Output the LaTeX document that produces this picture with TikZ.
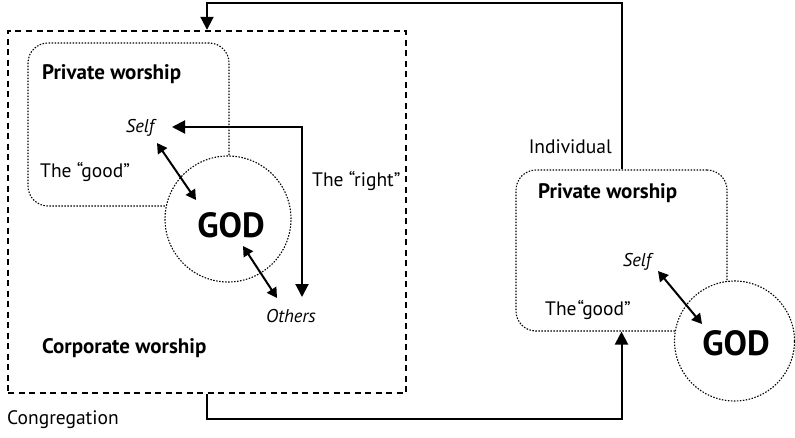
\documentclass[tikz,border=0pt]{standalone}
\usepackage{fontspec}
\setmainfont{PT Sans}
\usetikzlibrary{arrows.meta,calc}
\begin{document}
\begin{tikzpicture}[x=1pt,y=-1pt,
 dotline/.style={line width=1.1pt, dash pattern=on 1.5pt off 1.5pt},
 conn/.style={line width=2pt, -{Triangle[length=13pt,width=13pt]}},
 rconn/.style={line width=2pt, {Triangle[length=13pt,width=13pt]}-{Triangle[length=13pt,width=13pt]}},
 dconn/.style={line width=2pt, {Triangle[length=10pt,width=11pt]}-{Triangle[length=10pt,width=11pt]}},
 title/.style={font=\bfseries\fontsize{21}{24}\selectfont},
 lbl/.style={font=\fontsize{19.5}{22}\selectfont},
 it/.style={font=\itshape\fontsize{18.5}{21}\selectfont},
 godtxt/.style={font=\bfseries\fontsize{35}{38}\selectfont},
 every node/.style={inner sep=0pt}]
\useasboundingbox (0,0) rectangle (795,437);

% outer congregation box
\node[draw, line width=2.4pt, dash pattern=on 6pt off 4.5pt, minimum width=398pt, minimum height=362pt] (cong) at (207,212) {};

% left private worship + GOD
\node[draw, dotline, rounded corners=20pt, minimum width=201pt, minimum height=163pt] (pw1) at (128.5,124.5) {};
\node[draw, dotline, fill=white, circle, minimum size=126pt] (god1c) at (228,219) {};
\node[godtxt] (god1) at (231,225) {GOD};

% right private worship + GOD
\node[draw, dotline, rounded corners=20pt, minimum width=211pt, minimum height=161pt] (pw2) at (621.5,250.5) {};
\node[draw, dotline, fill=white, circle, minimum size=120pt] (god2c) at (734.5,341) {};
\node[godtxt] (god2) at (736,343) {GOD};

% texts
\node[title, anchor=west] (pwt1) at (42,74) {Private worship};
\node[it] (self1) at (140,128) {Self};
\node[lbl, anchor=west] (good1) at (40,172) {The “good”};
\node[lbl, anchor=west] (right) at (312,181) {The “right”};
\node[it] (others) at (291,316) {Others};
\node[title, anchor=west] (corp) at (42,348) {Corporate worship};
\node[lbl, anchor=west] (congl) at (7,420) {Congregation};
\node[lbl, anchor=east] (indiv) at (612,147) {Individual};
\node[title, anchor=west] (pwt2) at (538,193) {Private worship};
\node[it] (self2) at (637,262) {Self};
\node[lbl, anchor=west] (good2) at (545,310) {The\hspace{0.05em}“good”};

% connectors
\coordinate (topy) at (0,3);
\coordinate (boty) at (0,419);
\draw[conn] (pw2.north) -- (pw2.north |- topy) -- (cong.north |- topy) -- (cong.north);
\draw[conn] (cong.south) -- (cong.south |- boty) -- (pw2.south |- boty) -- (pw2.south);

\coordinate (selfTip) at (172,127);
\coordinate (rc) at (302,127);
\coordinate (othTip) at (302,297);
\draw[rconn] (selfTip) -- (rc) -- (othTip);

\coordinate (a1) at (157,143); \coordinate (b1) at (196,200);
\coordinate (a2) at (243,246); \coordinate (b2) at (277,298);
\coordinate (a3) at (658,271); \coordinate (b3) at (702,324);
\draw[dconn] (a1) -- (b1);
\draw[dconn] (a2) -- (b2);
\draw[dconn] (a3) -- (b3);
\end{tikzpicture}
\end{document}
